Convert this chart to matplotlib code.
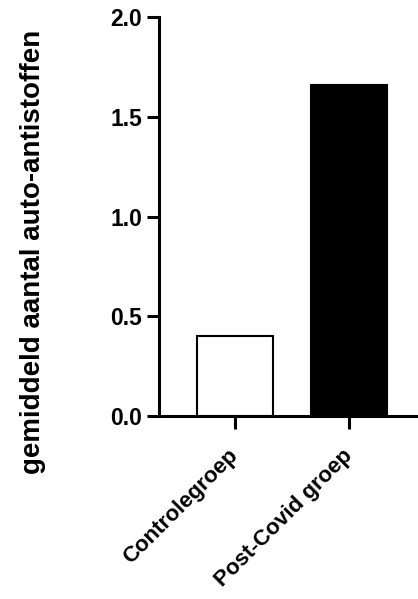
import matplotlib.pyplot as plt

groepen = ['Controlegroep', 'Post-Covid groep']
gemiddelden = [0.4, 1.66]
kleuren = ['white', 'black']

plt.rcParams['font.family'] = ['Liberation Sans', 'DejaVu Sans']
plt.rcParams['font.weight'] = 'bold'

fig = plt.figure(figsize=(4.18, 5.99), dpi=100)
ax = fig.add_axes([159 / 418, 183 / 599, 259 / 418, 399 / 599])

x = range(len(groepen))
ax.bar(x, gemiddelden, width=0.66, color=kleuren, edgecolor='black', linewidth=1.5)

ax.set_xlim(-0.667, 1.605)
ax.set_ylim(0, 2.0)
ax.set_yticks([0.0, 0.5, 1.0, 1.5, 2.0])
ax.set_yticklabels(['0.0', '0.5', '1.0', '1.5', '2.0'], fontsize=16.5, fontweight='bold')
ax.set_xticks(list(x))
ax.set_xticklabels(groepen, rotation=45, ha='right', va='center', rotation_mode='anchor',
                   fontsize=16, fontweight='bold')

# assen in GraphPad-stijl
for s in ['top', 'right']:
    ax.spines[s].set_visible(False)
for s in ['left', 'bottom']:
    ax.spines[s].set_linewidth(2.2)
ax.tick_params(axis='y', width=2.2, length=8.6, pad=3.6)
ax.tick_params(axis='x', width=2.2, length=9.5, pad=17)

ax.set_ylabel('gemiddeld aantal auto-antistoffen', fontsize=20, fontweight='bold')
ax.yaxis.set_label_coords(-0.436, 0.411)

fig.savefig('out.png', dpi=100)
